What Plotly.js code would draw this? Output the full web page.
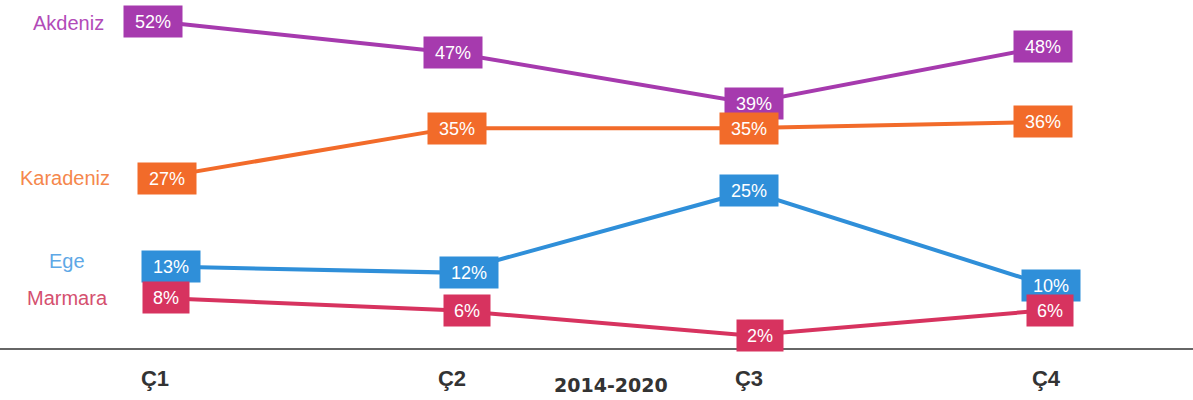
<!DOCTYPE html>
<html>
<head>
<meta charset="utf-8">
<script src="https://cdn.plot.ly/plotly-3.0.1.min.js"></script>
<style>html,body{margin:0;padding:0;background:#fff;}#chart{width:1193px;height:400px;}</style>
</head>
<body>
<div id="chart"></div>
<script>
const categories = ["Ç1", "Ç2", "Ç3", "Ç4"];
const seriesNames = ["Akdeniz", "Karadeniz", "Ege", "Marmara"];
const akdeniz = [52, 47, 39, 48];
const karadeniz = [27, 35, 35, 36];
const ege = [13, 12, 25, 10];
const marmara = [8, 6, 2, 6];
const xTitle = "2014-2020";

const seriesValues = [akdeniz, karadeniz, ege, marmara];
const lineColors = ["#A63AAE", "#F26B2A", "#2F8FD9", "#D7335F"];
const labelColors = ["#B24BB8", "#F5874C", "#5EA8E6", "#D5506F"];
const labelShift = [[-49, -2], [-43, 0], [-68, 5], [-45, 0]];
const boxShift = [[-2, 1, 5, -3], [12, 5, 0, -3], [16, 17, 0, 5], [11, 15, 11, 4]];
const FONT = "Liberation Sans, Arial, sans-serif";

const traces = seriesValues.map((vals, i) => ({
  type: "scatter",
  mode: "lines",
  x: categories,
  y: vals,
  line: {color: lineColors[i], width: 4},
  hoverinfo: "skip",
  showlegend: false
}));

const annotations = [];
seriesValues.forEach((vals, i) => {
  vals.forEach((v, j) => {
    const txt = v + "%";
    annotations.push({
      x: categories[j], y: v, xref: "x", yref: "y",
      xshift: boxShift[i][j],
      text: txt, showarrow: false,
      bgcolor: lineColors[i], borderpad: 6,
      width: txt.length > 2 ? 46 : 34, height: 19,
      font: {family: FONT, size: 18, color: "#ffffff"}
    });
  });
  annotations.push({
    x: categories[0], y: vals[0], xref: "x", yref: "y",
    text: seriesNames[i], showarrow: false, xanchor: "right",
    xshift: labelShift[i][0], yshift: labelShift[i][1],
    font: {family: FONT, size: 20, color: labelColors[i]}
  });
});
annotations.push({
  x: 0.512, y: 0, xref: "paper", yref: "paper", yanchor: "top", yshift: -24,
  text: xTitle, showarrow: false,
  font: {family: "DejaVu Sans, sans-serif", size: 19, color: "#333333", weight: "bold"}
});

const layout = {
  width: 1193, height: 400,
  margin: {l: 0, r: 0, t: 0, b: 52, pad: 0},
  paper_bgcolor: "#ffffff", plot_bgcolor: "#ffffff",
  showlegend: false,
  xaxis: {
    type: "category", range: [-0.522, 3.495],
    showgrid: false, zeroline: false,
    showline: true, linecolor: "#666666", linewidth: 2,
    ticks: "outside", ticklen: 10, tickcolor: "rgba(0,0,0,0)",
    tickfont: {family: FONT, size: 22, color: "#333333", weight: "bold"}
  },
  yaxis: {
    range: [0, 55.4], visible: false, showgrid: false, zeroline: false, fixedrange: true
  },
  annotations: annotations
};

Plotly.newPlot("chart", traces, layout, {displayModeBar: false, staticPlot: true});
</script>
</body>
</html>
